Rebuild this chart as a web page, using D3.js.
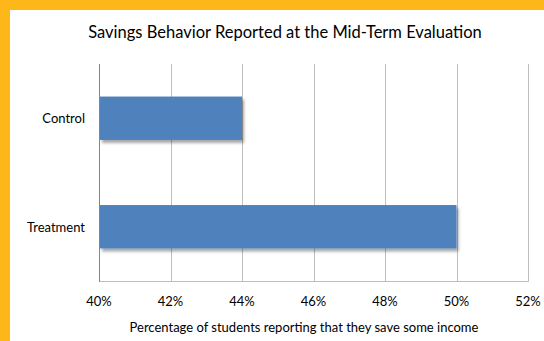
<!DOCTYPE html>
<html>
<head>
<meta charset="utf-8">
<script src="https://cdn.jsdelivr.net/npm/d3@7"></script>
<style>
  body { margin: 0; background: #fff; }
  text { font-family: Lato, "Open Sans", sans-serif; fill: #000; }
</style>
</head>
<body>
<svg id="chart" width="544" height="341"></svg>
<script>
// data
var categories = ['Control', 'Treatment'];
var values = [44, 50];
var xTicks = [40, 42, 44, 46, 48, 50, 52];
var title = 'Savings Behavior Reported at the Mid-Term Evaluation';
var xTitle = 'Percentage of students reporting that they save some income';

var svg = d3.select('#chart');

// orange frame on the top and left
svg.append('rect').attr('x', 0).attr('y', 0).attr('width', 544).attr('height', 10).attr('fill', '#FDB718');
svg.append('rect').attr('x', 0).attr('y', 0).attr('width', 10).attr('height', 341).attr('fill', '#FDB718');

var defs = svg.append('defs');
var f = defs.append('filter').attr('id', 'shadow')
	.attr('x', '-5%').attr('y', '-10%').attr('width', '115%').attr('height', '140%');
f.append('feDropShadow')
	.attr('dx', 2).attr('dy', 3).attr('stdDeviation', 1.8)
	.attr('flood-color', '#000').attr('flood-opacity', 0.35);

var plotLeft = 99, plotRight = 528, plotTop = 64, plotBottom = 281;

var x = d3.scaleLinear().domain([40, 52]).range([plotLeft, plotRight]);
var y = d3.scaleBand().domain(categories).range([plotTop, plotBottom]).paddingInner(0.6).paddingOuter(0.3);

// gridlines
svg.append('g').selectAll('line')
	.data(xTicks)
	.enter().append('line')
	.attr('x1', function(d) { return Math.round(x(d)) + 0.5; })
	.attr('x2', function(d) { return Math.round(x(d)) + 0.5; })
	.attr('y1', plotTop)
	.attr('y2', plotBottom)
	.attr('stroke', '#BFBFBF')
	.attr('stroke-width', 1);

// bottom line
svg.append('line')
	.attr('x1', plotLeft).attr('x2', plotRight + 1)
	.attr('y1', plotBottom + 0.5).attr('y2', plotBottom + 0.5)
	.attr('stroke', '#BFBFBF');

// bars
svg.append('g').selectAll('rect')
	.data(values)
	.enter().append('rect')
	.attr('x', x(40) + 1)
	.attr('y', function(d, i) { return y(categories[i]); })
	.attr('width', function(d) { return x(d) - x(40) - 1; })
	.attr('height', y.bandwidth())
	.attr('fill', '#4F81BD')
	.attr('filter', 'url(#shadow)');

// left axis line
svg.append('line')
	.attr('x1', plotLeft + 0.5).attr('x2', plotLeft + 0.5)
	.attr('y1', plotTop).attr('y2', plotBottom + 1)
	.attr('stroke', '#868686');

// x tick labels
svg.append('g').selectAll('text')
	.data(xTicks)
	.enter().append('text')
	.attr('x', function(d) { return x(d); })
	.attr('y', 306)
	.attr('text-anchor', 'middle')
	.style('font-size', '13px')
	.text(function(d) { return d + '%'; });

// category labels
svg.append('g').selectAll('text')
	.data(categories)
	.enter().append('text')
	.attr('x', 85)
	.attr('y', function(d) { return y(d) + y.bandwidth() / 2 + 5; })
	.attr('text-anchor', 'end')
	.style('font-size', '13px')
	.text(function(d) { return d; });

// titles
svg.append('text')
	.attr('x', 285)
	.attr('y', 38)
	.attr('text-anchor', 'middle')
	.style('font-size', '16.5px')
	.text(title);

svg.append('text')
	.attr('x', 304)
	.attr('y', 332)
	.attr('text-anchor', 'middle')
	.style('font-size', '13px')
	.text(xTitle);
</script>
</body>
</html>
